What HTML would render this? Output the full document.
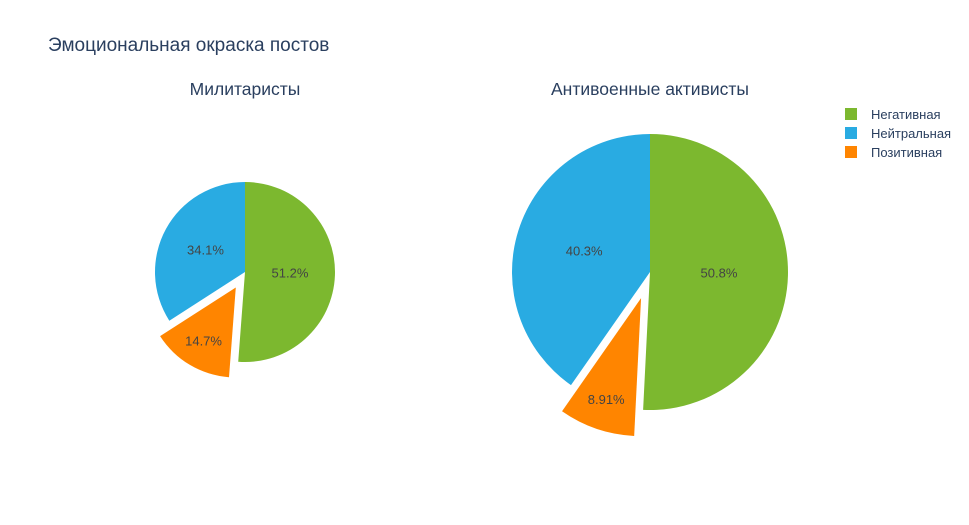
<!DOCTYPE html>
<html><head><meta charset="utf-8"><style>
body{margin:0;background:#fff;}
svg{display:block;font-family:"Liberation Sans","DejaVu Sans",sans-serif;}
</style></head><body>
<svg id="chart" width="969" height="525" viewBox="0 0 969 525">
<text x="48" y="51" font-size="19" fill="#2a3f5f">Эмоциональная окраска постов</text>
<text x="245" y="95" font-size="17.5" fill="#2a3f5f" text-anchor="middle">Милитаристы</text>
<text x="650" y="95" font-size="17.5" fill="#2a3f5f" text-anchor="middle">Антивоенные активисты</text>
<g>
<rect x="845" y="108" width="12" height="12" fill="#7cb82f"/>
<text x="871" y="119" font-size="13" fill="#2a3f5f">Негативная</text>
<rect x="845" y="127" width="12" height="12" fill="#29abe2"/>
<text x="871" y="138" font-size="13" fill="#2a3f5f">Нейтральная</text>
<rect x="845" y="146" width="12" height="12" fill="#ff8500"/>
<text x="871" y="157" font-size="13" fill="#2a3f5f">Позитивная</text>
</g>
<g id="pies"></g>
</svg>
<script>
const categories = ["Негативная", "Позитивная", "Нейтральная"];
const militaristValues = [51.2, 14.7, 34.1];
const antiwarValues = [50.8, 8.91, 40.3];
const militaristLabels = ["51.2%", "14.7%", "34.1%"];
const antiwarLabels = ["50.8%", "8.91%", "40.3%"];
const pulls = [0, 0.2, 0];
const colors = ["#7cb82f", "#ff8500", "#29abe2"];
const NS = "http://www.w3.org/2000/svg";
const g = document.getElementById("pies");
function pt(cx, cy, r, frac) {
  const a = frac * 2 * Math.PI;
  return [cx + r * Math.sin(a), cy - r * Math.cos(a)];
}
function drawPie(values, labels, cx, cy, r, name) {
  const total = values.reduce((a, b) => a + b, 0);
  let start = 0;
  values.forEach((v, i) => {
    const f0 = start / total, f1 = (start + v) / total, fm = (f0 + f1) / 2;
    const [ox, oy] = pt(0, 0, r * pulls[i], fm);
    const c = [cx + ox, cy + oy];
    const p0 = pt(c[0], c[1], r, f0), p1 = pt(c[0], c[1], r, f1);
    const large = (f1 - f0) > 0.5 ? 1 : 0;
    const path = document.createElementNS(NS, "path");
    path.setAttribute("d", `M${c[0]},${c[1]} L${p0[0]},${p0[1]} A${r},${r} 0 ${large} 1 ${p1[0]},${p1[1]} Z`);
    path.setAttribute("fill", colors[i]);
    
    
    g.appendChild(path);
    const lf = (f1 - f0) > 0.3 ? 0.5 : (f1 - f0) > 0.12 ? 0.7 : 0.78;
    const lp = pt(c[0], c[1], r * lf, fm);
    const t = document.createElementNS(NS, "text");
    t.setAttribute("x", lp[0]); t.setAttribute("y", lp[1] + 4);
    t.setAttribute("text-anchor", "middle");
    t.setAttribute("font-size", "13");
    t.setAttribute("fill", "#444");
    t.textContent = labels[i];
    
    
    g.appendChild(t);
    start += v;
  });
}
drawPie(militaristValues, militaristLabels, 245, 272, 90, "militarists");
drawPie(antiwarValues, antiwarLabels, 650, 272, 138, "antiwar");
</script>
</body></html>
